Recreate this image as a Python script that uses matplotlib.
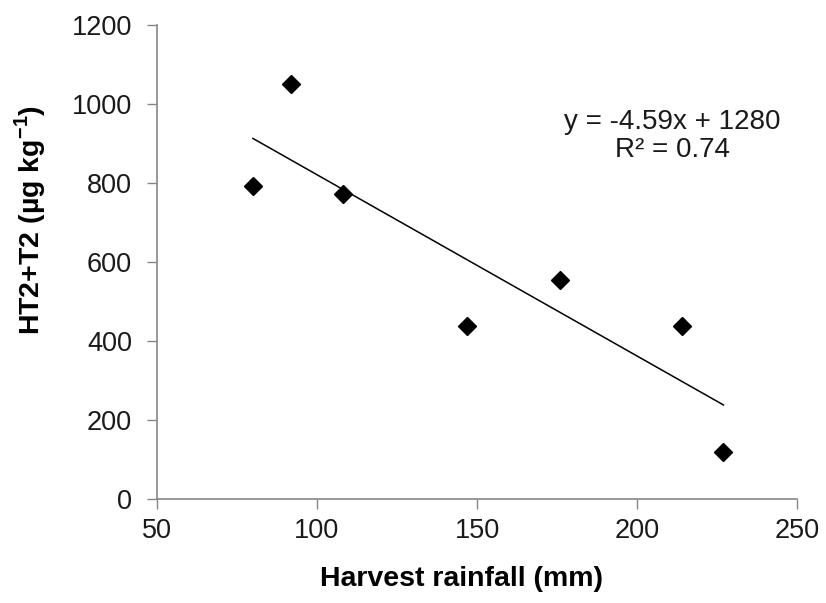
import numpy as np
import matplotlib.pyplot as plt

plt.rcParams['font.family'] = ['Liberation Sans', 'DejaVu Sans']
plt.rcParams['mathtext.fontset'] = 'custom'
plt.rcParams['mathtext.rm'] = 'Liberation Sans'
plt.rcParams['mathtext.bf'] = 'Liberation Sans:bold'

# datos
rainfall = [80, 92, 108, 147, 176, 214, 227]
ht2_t2 = [793, 1050, 773, 438, 555, 438, 118]
slope = -4.59
intercept = 1280
r2 = 0.74

xticks = [50, 100, 150, 200, 250]
yticks = [0, 200, 400, 600, 800, 1000, 1200]

axis_gray = '#868686'

fig = plt.figure(figsize=(8.26, 6.03), dpi=100)
ax = fig.add_axes([0.190, 0.1725, 0.775, 0.786])

# linea de tendencia
xl = np.array([min(rainfall), max(rainfall)])
ax.plot(xl, slope * xl + intercept, color='black', lw=1.1, zorder=2)
ax.plot(rainfall, ht2_t2, linestyle='none', marker='D', markersize=9,
        color='black', zorder=3)

ax.set_xlim(50, 250)
ax.set_ylim(0, 1200)
ax.set_xticks(xticks)
ax.set_yticks(yticks)
ax.tick_params(labelsize=19.5, colors=axis_gray, labelcolor='#1a1a1a',
               length=7, width=1, direction='out')
ax.tick_params(axis='y', pad=11)
ax.tick_params(axis='x', pad=7)

for s in ['top', 'right']:
    ax.spines[s].set_visible(False)
for s in ['left', 'bottom']:
    ax.spines[s].set_color(axis_gray)
    ax.spines[s].set_linewidth(1.2)

fig.text(461 / 826, 1 - 579 / 603, 'Harvest rainfall (mm)', fontsize=20.5,
         fontweight='bold', ha='center', va='center')
fig.text(30 / 826, 1 - 220 / 603, r'HT2+T2 (µg kg$^{\mathregular{-1}}$)', fontsize=20.5,
         fontweight='bold', rotation=90, ha='center', va='center')

ax.text(211, 919, f'y = {slope}x + {intercept}\nR² = {r2}', fontsize=20,
        ha='center', va='center', multialignment='center', linespacing=1.1,
        color='#1a1a1a')

fig.savefig('out.png', dpi=100)
